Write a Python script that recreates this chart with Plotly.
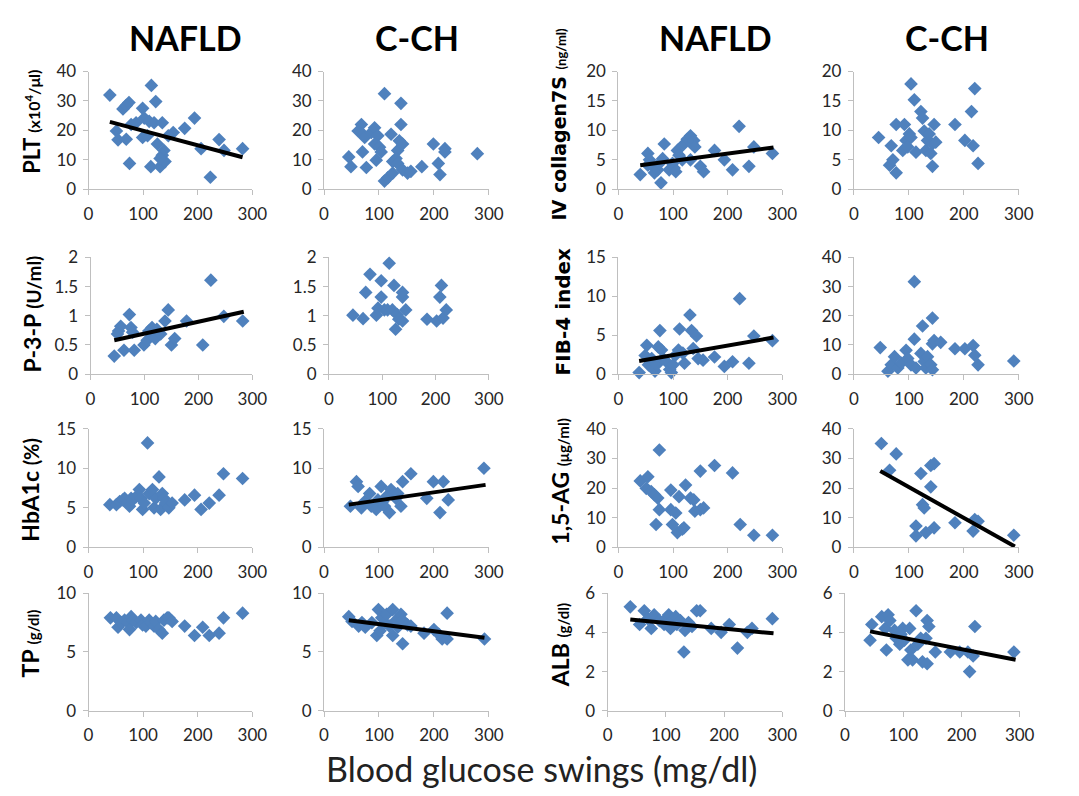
import plotly.graph_objects as go

W, H = 1079, 796          # target picture size
PAD = 8                   # browser default body margin
FW, FH = W - 2 * PAD, H - 2 * PAD

# ---------------- data ----------------
nafld_plt_x = [39,115,63,69,74,51,54,69,75,78,87,99,102,99,108,111,120,123,126,114,131,135,138,135,140,131,155,146,176,194,206,223,239,248,282]
nafld_plt_y = [32,35.3,27.3,28.5,29.5,19.8,16.8,17,8.8,22,22.6,27.5,24.2,17.6,18.2,23.1,22.6,29.8,15.4,7.7,7.7,22.6,13.2,11.6,9.4,10.5,19.3,18.2,20.7,24.2,13.8,4.1,16.9,13.2,13.8]
nafld_plt_trend_x = [39, 282]
nafld_plt_trend_y = [22.9, 10.9]

cch_plt_x = [45,49,68,62,71,74,70,77,86,92,98,92,101,95,104,110,110,116,125,122,134,131,125,140,140,137,143,134,143,152,158,178,199,208,211,220,220,279]
cch_plt_y = [11,7.7,22,19.8,18.7,17.6,12.7,7.4,19.3,20.9,18.2,15.4,14.3,9.9,12.7,32.5,2.8,3.9,5.5,18.7,13.2,10.5,9.4,29.2,22,16.5,15.4,8.8,6.6,5.5,6.1,7.7,15.4,8.8,5,13.8,12.7,12.1]

nafld_col_x = [40,54,57,54,63,66,72,78,81,84,75,93,99,102,105,108,111,117,120,126,132,135,138,140,132,150,156,176,194,209,221,239,248,282]
nafld_col_y = [2.5,6.1,5,4.1,3.9,2.8,3.3,1.1,5.2,7.7,4.4,3.3,4.4,3.6,3,6.6,5.8,5,7.7,8.5,9.1,7.7,8.3,7.2,5,3.9,3,6.6,5,3.3,10.7,3.9,7.2,6.1]
nafld_col_trend_x = [40, 284]
nafld_col_trend_y = [4.1, 7.1]

cch_col_x = [45,68,65,71,77,77,92,89,95,101,104,98,104,110,113,122,125,128,131,134,137,140,143,146,143,149,184,202,214,220,217,226]
cch_col_y = [8.8,7.4,4.1,5,2.8,11,11,6.6,8.3,9.4,8.8,7.2,17.9,15.2,6.3,13.2,12.1,9.9,6.6,8.3,9.4,6.1,3.9,11,7.7,8,11,8.3,13.2,17.1,7.4,4.4]

nafld_p3p_x = [44,52,56,50,62,72,75,78,81,99,105,108,114,117,120,123,130,138,144,150,156,178,208,223,247,282]
nafld_p3p_y = [0.31,0.74,0.82,0.69,0.41,1.02,0.80,0.72,0.41,0.50,0.58,0.74,0.80,0.69,0.61,0.77,0.69,0.91,1.10,0.50,0.61,0.91,0.50,1.61,0.99,0.91]
nafld_p3p_trend_x = [44, 284]
nafld_p3p_trend_y = [0.58, 1.07]

cch_p3p_x = [45,64,69,77,89,92,98,98,104,110,113,119,122,125,128,131,138,138,144,138,184,202,208,211,214,220]
cch_p3p_y = [1.01,0.95,1.40,1.71,1.01,1.13,1.60,1.32,1.10,1.10,1.90,1.10,1.52,0.77,1.02,0.94,1.32,1.40,1.10,0.91,0.94,0.91,1.32,1.52,0.96,1.10]

nafld_fib_x = [38,52,49,55,61,67,70,73,76,79,82,88,94,97,100,104,110,112,118,121,131,134,137,143,146,155,176,194,209,222,239,248,282]
nafld_fib_y = [0.2,3.7,2.4,1.2,2.0,0.4,1.2,3.5,5.6,3.1,2.0,1.6,0.6,0.2,1.2,2.4,3.1,5.8,2.7,1.4,7.6,5.6,3.3,4.9,2.0,1.8,2.2,1.0,1.6,9.7,1.4,4.9,4.3]
nafld_fib_trend_x = [38, 284]
nafld_fib_trend_y = [1.7, 4.7]

cch_fib_x = [48,62,68,74,80,86,95,98,104,110,110,113,122,125,128,131,134,140,143,143,143,146,158,184,202,217,220,226,291]
cch_fib_y = [9.1,1.0,3.2,6.0,2.1,3.8,8.2,5.4,3.2,31.7,12.0,2.1,7.1,16.5,4.3,2.1,6.0,3.2,1.5,19.2,10.4,11.5,10.9,8.7,8.7,9.8,6.5,3.2,4.5]

nafld_hba_x = [39,51,57,63,66,72,75,78,81,87,93,96,99,102,108,111,117,120,123,129,132,135,138,141,147,153,176,194,206,221,239,247,282]
nafld_hba_y = [5.4,5.4,5.8,6.0,6.2,5.6,5.2,6.2,6.0,6.4,7.3,6.2,4.8,5.6,13.2,6.8,7.3,5.0,6.2,8.9,4.8,6.8,6.2,5.6,5.0,5.6,6.0,6.6,4.8,5.6,6.6,9.3,8.7]

cch_hba_x = [48,59,62,68,74,83,86,95,98,104,107,110,113,119,122,128,131,134,140,143,158,187,199,211,217,226,291]
cch_hba_y = [5.2,8.3,7.7,5.0,5.8,6.8,5.2,4.8,6.0,7.7,5.8,5.2,6.4,4.4,7.3,6.8,6.2,6.8,5.2,8.3,9.3,6.2,8.3,4.4,8.3,6.0,10.0]
cch_hba_trend_x = [45, 294]
cch_hba_trend_y = [5.4, 7.9]

nafld_ag_x = [40,54,51,60,66,69,72,75,75,96,96,99,105,108,111,117,120,123,132,138,140,150,150,156,176,209,223,248,282]
nafld_ag_y = [22.4,23.8,19.9,18.8,17.7,7.7,16.6,32.8,12.7,19.3,12.7,7.7,11.6,5.0,17.1,6.1,6.6,21.0,16.6,16.0,12.2,12.7,25.7,13.3,27.6,25.1,7.7,4.1,4.1]

cch_ag_x = [50,65,77,113,113,122,125,128,131,140,140,146,146,184,217,220,226,291]
cch_ag_y = [35.0,26.0,31.5,7.2,3.9,24.9,14.4,13.3,5.0,20.4,27.6,28.2,6.6,8.3,5.5,9.4,8.8,4.1]
cch_ag_trend_x = [48, 293]
cch_ag_trend_y = [25.7, 0.3]

nafld_tp_x = [40,51,54,60,66,72,75,78,81,87,96,99,105,111,114,120,123,129,135,138,144,147,153,176,194,209,221,239,247,282]
nafld_tp_y = [7.9,7.9,7.1,7.5,7.7,7.5,6.9,8.0,7.7,7.5,7.7,7.3,7.2,7.7,7.5,7.2,7.6,6.9,6.6,7.7,7.9,7.9,7.6,7.2,6.4,7.1,6.4,6.6,7.9,8.3]

cch_tp_x = [45,51,63,69,75,87,96,99,105,102,111,114,119,125,125,131,134,140,143,143,152,158,182,200,209,215,224,224,292]
cch_tp_y = [8.0,7.6,7.2,7.5,7.1,7.5,6.4,8.6,7.9,6.8,7.5,8.2,7.2,6.4,8.6,7.7,7.1,8.2,7.7,5.7,7.3,7.2,6.6,6.9,6.5,6.1,6.1,8.3,6.1]
cch_tp_trend_x = [45, 292]
cch_tp_trend_y = [7.7, 6.2]

nafld_alb_x = [39,55,63,69,75,80,89,97,100,105,108,111,117,119,125,131,133,139,145,153,159,178,195,209,223,240,248,283]
nafld_alb_y = [5.3,4.4,5.1,4.7,4.2,4.9,4.6,4.4,4.7,4.9,4.2,4.6,4.8,4.4,4.6,3.0,4.1,4.5,4.3,5.1,5.1,4.2,4.0,4.4,3.2,4.0,4.2,4.7]
nafld_alb_trend_x = [39, 285]
nafld_alb_trend_y = [4.65, 3.95]

cch_alb_x = [43,46,63,69,71,74,77,85,88,94,96,99,102,108,111,113,116,122,125,130,133,139,141,141,144,155,181,197,211,214,220,223,290]
cch_alb_y = [3.6,4.4,4.8,4.2,3.1,4.9,4.6,4.1,3.7,3.4,3.9,4.2,3.6,2.6,4.2,3.1,2.6,5.1,3.4,3.7,2.5,3.7,2.4,4.6,4.3,3.0,3.0,3.0,3.0,2.0,2.8,4.3,3.0]
cch_alb_trend_x = [43, 293]
cch_alb_trend_y = [4.05, 2.6]

x_ticks = [0, 100, 200, 300]
column_titles = ["NAFLD", "C-CH", "NAFLD", "C-CH"]
x_title = "Blood glucose swings (mg/dl)"


def px_x(p):
    return (p - PAD) / FW


def px_y(p):
    return 1 - (p - PAD) / FH


# ---------------- layout geometry (target pixels) ----------------
col_px = {1: (85, 252), 2: (325, 493), 3: (625, 792), 4: (865, 1033)}
row_px = {1: (62, 183), 2: (253, 373), 3: (429, 551), 4: (598, 719)}
override_px = {(4, 3): (614, 792), (4, 4): (856, 1034), (2, 1): (87, 252), (2, 2): (330, 493)}

panels = [
    (1, 1, nafld_plt_x, nafld_plt_y, [0, 10, 20, 30, 40], nafld_plt_trend_x, nafld_plt_trend_y),
    (1, 2, cch_plt_x, cch_plt_y, [0, 10, 20, 30, 40], None, None),
    (1, 3, nafld_col_x, nafld_col_y, [0, 5, 10, 15, 20], nafld_col_trend_x, nafld_col_trend_y),
    (1, 4, cch_col_x, cch_col_y, [0, 5, 10, 15, 20], None, None),
    (2, 1, nafld_p3p_x, nafld_p3p_y, [0, 0.5, 1, 1.5, 2], nafld_p3p_trend_x, nafld_p3p_trend_y),
    (2, 2, cch_p3p_x, cch_p3p_y, [0, 0.5, 1, 1.5, 2], None, None),
    (2, 3, nafld_fib_x, nafld_fib_y, [0, 5, 10, 15], nafld_fib_trend_x, nafld_fib_trend_y),
    (2, 4, cch_fib_x, cch_fib_y, [0, 10, 20, 30, 40], None, None),
    (3, 1, nafld_hba_x, nafld_hba_y, [0, 5, 10, 15], None, None),
    (3, 2, cch_hba_x, cch_hba_y, [0, 5, 10, 15], cch_hba_trend_x, cch_hba_trend_y),
    (3, 3, nafld_ag_x, nafld_ag_y, [0, 10, 20, 30, 40], None, None),
    (3, 4, cch_ag_x, cch_ag_y, [0, 10, 20, 30, 40], cch_ag_trend_x, cch_ag_trend_y),
    (4, 1, nafld_tp_x, nafld_tp_y, [0, 5, 10], None, None),
    (4, 2, cch_tp_x, cch_tp_y, [0, 5, 10], cch_tp_trend_x, cch_tp_trend_y),
    (4, 3, nafld_alb_x, nafld_alb_y, [0, 2, 4, 6], nafld_alb_trend_x, nafld_alb_trend_y),
    (4, 4, cch_alb_x, cch_alb_y, [0, 2, 4, 6], cch_alb_trend_x, cch_alb_trend_y),
]

FONT = "Lato, 'Open Sans', sans-serif"
WIDE = "'DejaVu Sans', Lato, sans-serif"
AX_COLOR = "#bfbfbf"
MARKER = "#4F81BD"

fig = go.Figure()
layout_axes = {}
for i, (r, c, xs, ys, yt, tx, ty) in enumerate(panels, start=1):
    sfx = "" if i == 1 else str(i)
    x0, x1 = override_px.get((r, c), col_px[c])
    y0, y1 = row_px[r]
    fig.add_trace(go.Scatter(
        x=xs, y=ys, mode="markers",
        marker=dict(symbol="diamond", size=10.5, color=MARKER, line=dict(width=0)),
        xaxis="x" + sfx, yaxis="y" + sfx, cliponaxis=False, hoverinfo="skip", showlegend=False))
    if tx is not None:
        fig.add_trace(go.Scatter(
            x=tx, y=ty, mode="lines", line=dict(color="black", width=4),
            xaxis="x" + sfx, yaxis="y" + sfx, cliponaxis=False, hoverinfo="skip", showlegend=False))
    layout_axes["xaxis" + sfx] = dict(
        domain=[px_x(x0), px_x(x1)], range=[0, 300], tickvals=x_ticks,
        anchor="y" + sfx, showline=True, linecolor=AX_COLOR, linewidth=1,
        ticks="outside", ticklen=5, tickcolor=AX_COLOR, showgrid=False, zeroline=False,
        tickfont=dict(family=FONT, size=17, color="#262626"), ticklabelstandoff=4,
        fixedrange=True)
    layout_axes["yaxis" + sfx] = dict(
        domain=[px_y(y1), px_y(y0)], range=[0, yt[-1]], tickvals=yt,
        ticktext=[("%g" % v) for v in yt],
        anchor="x" + sfx, showline=True, linecolor=AX_COLOR, linewidth=1,
        ticks="outside", ticklen=5, tickcolor=AX_COLOR, showgrid=False, zeroline=False,
        tickfont=dict(family=FONT, size=17, color="#262626"), ticklabelstandoff=3,
        fixedrange=True)

annotations = []
title_pos = [(184, 27), (420, 27), (724, 27), (960, 27)]
for t, (px, py) in zip(column_titles, title_pos):
    annotations.append(dict(text="<b>%s</b>" % t, x=px_x(px), y=px_y(py), xref="paper", yref="paper",
                            showarrow=False, xanchor="center", yanchor="middle",
                            font=dict(family=FONT, size=34, color="black")))

annotations.append(dict(text=x_title, x=px_x(547), y=px_y(778), xref="paper", yref="paper",
                        showarrow=False, xanchor="center", yanchor="middle",
                        font=dict(family=FONT, size=34, color="#222222")))


def sp(txt, size, family=None):
    fam = "font-family:%s;" % family if family else ""
    return "<span style=\"font-size:%dpx;%s\">%s</span>" % (size, fam, txt)


ylabels = [
    ("<b>PLT " + sp("(x10<sup>4</sup>/μl)", 16) + "</b>", 26, 114, FONT, 22),
    ("<b>Ⅳ collagen7S " + sp("(ng/ml)", 13, "Lato") + "</b>", 565, 116, WIDE, 19),
    ("<b>P-3-P " + sp("(U/ml)", 19) + "</b>", 27, 311, FONT, 23),
    ("<b>FIB-4 index</b>", 568, 308, WIDE, 20),
    ("<b>HbA1c " + sp("(%)", 20) + "</b>", 25, 492, FONT, 23),
    ("<b>1,5-AG " + sp("(μg/ml)", 15) + "</b>", 566, 484, FONT, 23),
    ("<b>TP " + sp("(g/dl)", 15) + "</b>", 25, 650, FONT, 23),
    ("<b>ALB " + sp("(g/dl)", 15) + "</b>", 565, 652, FONT, 23),
]
for txt, px, py, fam, fs in ylabels:
    annotations.append(dict(text=txt, x=px_x(px), y=px_y(py), xref="paper", yref="paper",
                            showarrow=False, xanchor="center", yanchor="middle", textangle=-90,
                            font=dict(family=fam, size=fs, color="black")))

fig.update_layout(
    width=FW, height=FH, margin=dict(l=0, r=0, t=0, b=0),
    paper_bgcolor="white", plot_bgcolor="white",
    annotations=annotations, showlegend=False, **layout_axes)

fig.write_html("out.html", config={"displayModeBar": False})
